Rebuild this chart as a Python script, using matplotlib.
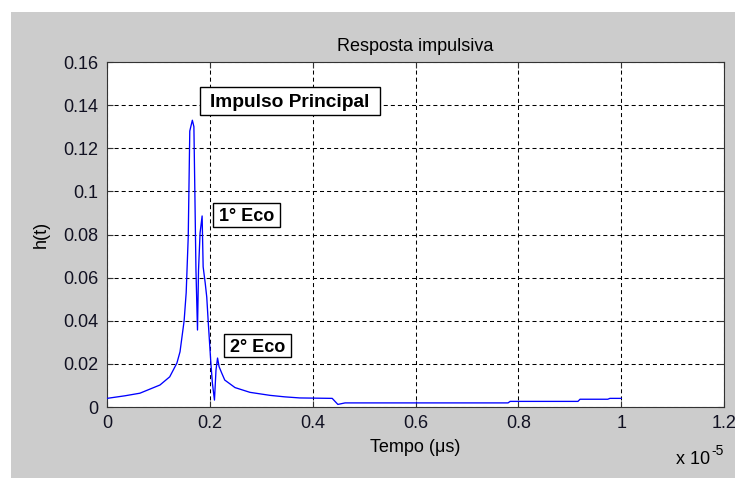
import numpy as np
import matplotlib
matplotlib.use("Agg")
import matplotlib.pyplot as plt
from matplotlib.patches import Rectangle

# Impulse response samples: time in microseconds, amplitude h(t)
tempo_us = [0.00, 0.35, 0.64, 1.03, 1.22, 1.36, 1.42, 1.50, 1.54, 1.58,
            1.61, 1.66, 1.69, 1.71, 1.73, 1.76, 1.78, 1.81, 1.85, 1.87,
            1.91, 1.94, 1.97, 2.02, 2.05, 2.09, 2.12, 2.15, 2.18, 2.23,
            2.29, 2.49, 2.78, 3.17, 3.46, 3.75, 4.38, 4.49, 4.63, 7.80,
            7.84, 9.16, 9.20, 9.74, 9.78, 10.00]
h_t = [0.0040, 0.0052, 0.0064, 0.0102, 0.0140, 0.0204, 0.0256, 0.0400, 0.0530, 0.0790,
       0.1280, 0.1330, 0.1300, 0.0975, 0.0635, 0.0357, 0.0635, 0.0807, 0.0886, 0.0650,
       0.0575, 0.0510, 0.0390, 0.0204, 0.0110, 0.0032, 0.0172, 0.0227, 0.0187, 0.0158,
       0.0125, 0.0090, 0.0068, 0.0054, 0.0047, 0.0042, 0.0040, 0.0012, 0.0019, 0.0019,
       0.0026, 0.0026, 0.0036, 0.0036, 0.0040, 0.0040]

x_ticks = [0, 0.2, 0.4, 0.6, 0.8, 1.0, 1.2]          # x 10^-5 s
x_tick_labels = ["0", "0.2", "0.4", "0.6", "0.8", "1", "1.2"]
y_ticks = [0, 0.02, 0.04, 0.06, 0.08, 0.1, 0.12, 0.14, 0.16]
y_tick_labels = ["0", "0.02", "0.04", "0.06", "0.08", "0.1", "0.12", "0.14", "0.16"]

# annotation text and its framed box (x in 10^-5 s, y in h units)
labels = ["Impulso Principal", "1° Eco", "2° Eco"]
label_boxes = [(0.181, 0.531, 0.1353, 0.1486),
               (0.2067, 0.3364, 0.0836, 0.0945),
               (0.2275, 0.3573, 0.0233, 0.0339)]
label_sizes = [13.8, 13, 13]

plt.rcParams["font.family"] = ["Liberation Sans", "DejaVu Sans"]
plt.rcParams["lines.scale_dashes"] = False

W, H = 735, 478
fig = plt.figure(figsize=(W / 100, H / 100), dpi=100, facecolor="white")
# grey figure panel
fig.patches.append(Rectangle((11 / W, 0), 1 - 11 / W, (H - 12) / H,
                             transform=fig.transFigure, facecolor="#cccccc",
                             edgecolor="none", zorder=-10))

ax = fig.add_axes([107 / W, (H - 407) / H, (724 - 107) / W, (407 - 62) / H])
ax.set_facecolor("white")

t_s = np.array(tempo_us) * 1e-6
ax.plot(t_s, h_t, color="#0000ff", lw=0.95, zorder=3)

ax.set_xlim(0, 1.2e-5)
ax.set_ylim(0, 0.16)
ax.set_xticks(np.array(x_ticks) * 1e-5)
ax.set_xticklabels(x_tick_labels)
ax.set_yticks(y_ticks)
ax.set_yticklabels(y_tick_labels)

ax.grid(True, color="black", linestyle=(0, (2.9, 2.2)), linewidth=0.75)
ax.set_axisbelow(True)
for s in ax.spines.values():
    s.set_color("#333333")
    s.set_linewidth(0.8)
ax.tick_params(direction="in", length=4.3, width=0.8, color="#333333",
               top=True, right=True, labelsize=13, pad=6, labelcolor="#111122")

ax.set_title("Resposta impulsiva", fontsize=13, pad=8)
ax.set_xlabel("Tempo (μs)", fontsize=13, labelpad=5)
ax.set_ylabel("h(t)", fontsize=13, labelpad=10)
# axis exponent, drawn as base plus raised power
fig.text(676 / W, (H - 468) / H, "x 10", fontsize=13, ha="left", va="bottom")
fig.text(711 / W, (H - 458) / H, "-5", fontsize=10, ha="left", va="bottom")

for txt, (x0, x1, y0, y1), fs in zip(labels, label_boxes, label_sizes):
    ax.add_patch(Rectangle((x0 * 1e-5, y0), (x1 - x0) * 1e-5, y1 - y0,
                           facecolor="white", edgecolor="black", linewidth=1,
                           zorder=5))
    ax.text((x0 + x1) / 2 * 1e-5, (y0 + y1) / 2, txt, fontsize=fs,
            fontweight="bold", ha="center", va="center_baseline", zorder=6)

fig.savefig("out.png", dpi=100, facecolor="white")
